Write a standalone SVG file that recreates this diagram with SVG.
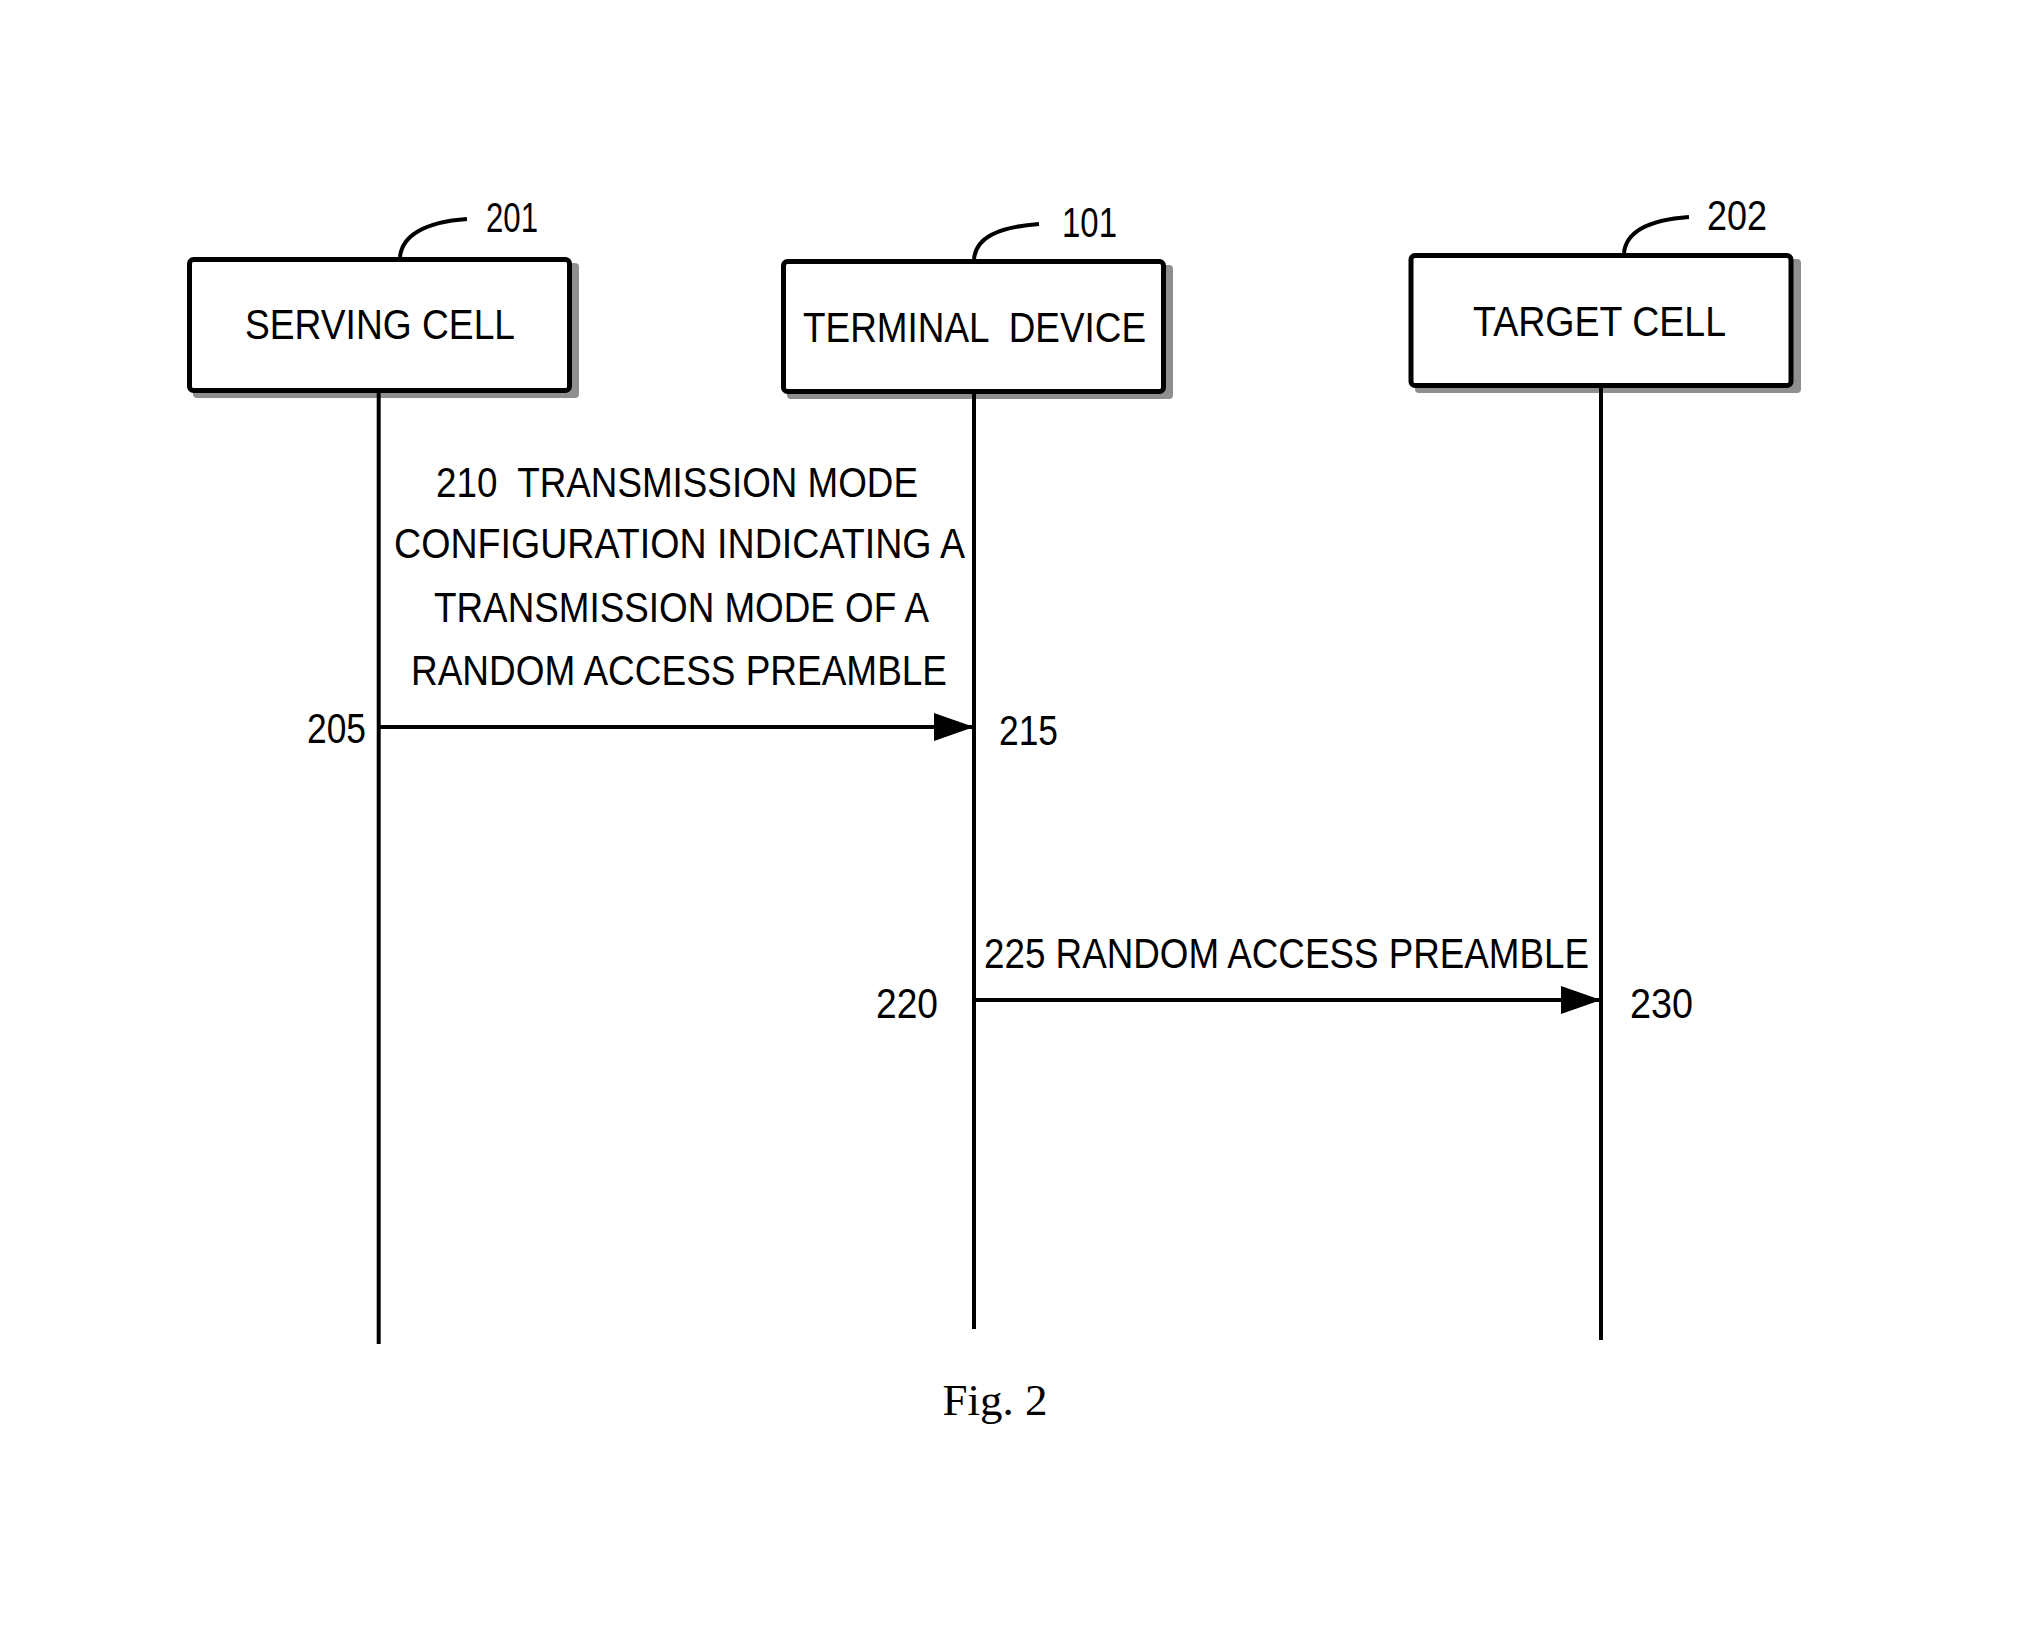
<svg xmlns="http://www.w3.org/2000/svg" width="2039" height="1635" viewBox="0 0 2039 1635">
  <style>
    .box { fill: #ffffff; stroke: #000000; stroke-width: 5; }
    .shadow { fill: #8f8f8f; }
    .life { stroke: #000000; stroke-width: 4; fill: none; }
    .msg { stroke: #000000; stroke-width: 4; fill: none; marker-end: url(#arrow); }
    .lead { stroke: #000000; stroke-width: 4; fill: none; }
    .t { font-family: "Liberation Sans", Arial, sans-serif; font-size: 43px; fill: #000000; white-space: pre; }
    .cap { font-family: "Liberation Serif", "Times New Roman", serif; font-size: 45px; fill: #000000; }
  </style>
  <defs>
    <marker id="arrow" viewBox="0 0 40 28" refX="40" refY="14" markerWidth="40" markerHeight="28" markerUnits="userSpaceOnUse" orient="auto">
      <path d="M0,0 L40,14 L0,28 Z" fill="#000000"/>
    </marker>
  </defs>
  <rect width="2039" height="1635" fill="#ffffff"/>

  <g id="serving-cell">
    <rect class="shadow" x="193" y="263" width="386" height="135" rx="4"/>
    <rect class="box" x="189.5" y="259.5" width="380" height="131" rx="4"/>
    <text class="t" x="245" y="339" textLength="270" lengthAdjust="spacingAndGlyphs">SERVING CELL</text>
    <path class="lead" d="M400,257 C402,236 424,222 467,219"/>
    <text class="t" x="486" y="232" textLength="52" lengthAdjust="spacingAndGlyphs">201</text>
  </g>

  <g id="terminal-device">
    <rect class="shadow" x="787" y="265" width="386" height="134" rx="4"/>
    <rect class="box" x="783.5" y="261.5" width="380" height="130" rx="4"/>
    <text class="t" x="803" y="342" textLength="343" lengthAdjust="spacingAndGlyphs" xml:space="preserve">TERMINAL  DEVICE</text>
    <path class="lead" d="M974,259 C976,238 997,227 1039,224"/>
    <text class="t" x="1062" y="237" textLength="55" lengthAdjust="spacingAndGlyphs">101</text>
  </g>

  <g id="target-cell">
    <rect class="shadow" x="1415" y="259" width="386" height="134" rx="4"/>
    <rect class="box" x="1411" y="255.5" width="380" height="130" rx="4"/>
    <text class="t" x="1473" y="336" textLength="253" lengthAdjust="spacingAndGlyphs">TARGET CELL</text>
    <path class="lead" d="M1624,253 C1626,232 1648,220 1689,217"/>
    <text class="t" x="1707" y="230" textLength="60" lengthAdjust="spacingAndGlyphs">202</text>
  </g>

  <g id="connectors">
    <line class="life" x1="378.7" y1="393" x2="378.7" y2="1344"/>
    <line class="life" x1="974" y1="394" x2="974" y2="1329"/>
    <line class="life" x1="1601" y1="388" x2="1601" y2="1340"/>
    <line class="msg" x1="378.7" y1="727" x2="974" y2="727"/>
    <line class="msg" x1="974" y1="1000" x2="1601" y2="1000"/>
  </g>

  <g id="labels">
    <text class="t" x="436" y="497" textLength="482" lengthAdjust="spacingAndGlyphs" xml:space="preserve">210  TRANSMISSION MODE</text>
    <text class="t" x="394" y="558" textLength="571" lengthAdjust="spacingAndGlyphs">CONFIGURATION INDICATING A</text>
    <text class="t" x="434" y="622" textLength="495" lengthAdjust="spacingAndGlyphs">TRANSMISSION MODE OF A</text>
    <text class="t" x="411" y="685" textLength="536" lengthAdjust="spacingAndGlyphs">RANDOM ACCESS PREAMBLE</text>
    <text class="t" x="307" y="743" textLength="59" lengthAdjust="spacingAndGlyphs">205</text>
    <text class="t" x="999" y="745" textLength="59" lengthAdjust="spacingAndGlyphs">215</text>
    <text class="t" x="984" y="968" textLength="605" lengthAdjust="spacingAndGlyphs">225 RANDOM ACCESS PREAMBLE</text>
    <text class="t" x="876" y="1018" textLength="62" lengthAdjust="spacingAndGlyphs">220</text>
    <text class="t" x="1630" y="1018" textLength="63" lengthAdjust="spacingAndGlyphs">230</text>
    <text class="cap" x="995" y="1415" text-anchor="middle">Fig. 2</text>
  </g>
</svg>
